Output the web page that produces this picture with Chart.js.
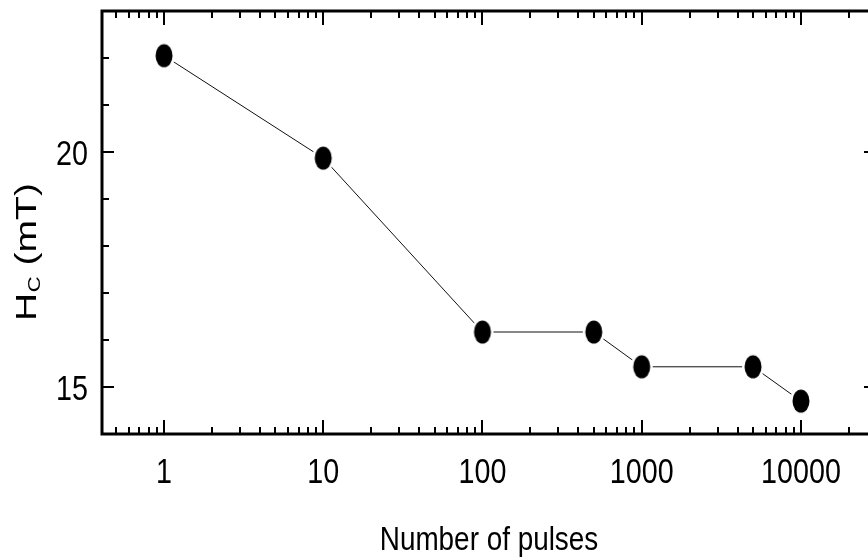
<!DOCTYPE html>
<html><head><meta charset="utf-8">
<script src="https://cdn.jsdelivr.net/npm/chart.js@4.4.1/dist/chart.umd.min.js"></script>
<style>html,body{margin:0;padding:0;background:#fff}#wrap{width:868px;height:558px;position:relative}</style>
</head><body><div id="wrap"><canvas id="c" width="868" height="558"></canvas></div>
<script>
// ---- data ----
const pulses = [1, 10, 100, 500, 1000, 5000, 10000];
const hc = [22.05, 19.87, 16.17, 16.17, 15.43, 15.43, 14.70];
const xMajorTicks = [1, 10, 100, 1000, 10000];
const yMajorTicks = [15, 20];
const yMinorTicks = [14, 16, 17, 18, 19, 21, 22, 23];
const xTitle = 'Number of pulses';
const yTitleMain = 'H', yTitleSub = 'C', yTitleUnit = ' (mT)';

const FAM = "'Liberation Sans', Arial, sans-serif";

// marker image: black ellipse with thin white halo
function makeMarker(){
  const c = document.createElement('canvas'); c.width = 24; c.height = 30;
  const g = c.getContext('2d');
  g.fillStyle = '#fff'; g.beginPath(); g.ellipse(12, 15, 11, 14, 0, 0, Math.PI*2); g.fill();
  g.fillStyle = '#000'; g.beginPath(); g.ellipse(12, 15, 8.5, 11.5, 0, 0, Math.PI*2); g.fill();
  return c;
}

// condensed text (Arial-Narrow-like) drawn through a horizontal scale
function txt(ctx, str, x, y, size, align, sx){
  ctx.save();
  ctx.translate(x, y); ctx.scale(sx, 1);
  ctx.font = `${size}px ${FAM}`;
  ctx.textAlign = align; ctx.textBaseline = 'alphabetic';
  ctx.fillStyle = '#000';
  ctx.fillText(str, 0, 0);
  ctx.restore();
}

const frame = {
  id: 'frame',
  afterDatasetsDraw(chart){
    const {ctx, chartArea:a, scales:{x, y}} = chart;
    const right = 876; // true right border lies just outside the window
    ctx.save();
    ctx.strokeStyle = '#000';
    ctx.lineWidth = 3; ctx.lineCap = 'square';
    ctx.beginPath();
    ctx.moveTo(right, a.top); ctx.lineTo(a.left, a.top); ctx.lineTo(a.left, a.bottom); ctx.lineTo(right, a.bottom);
    ctx.stroke();
    ctx.lineWidth = 2; ctx.lineCap = 'butt';
    ctx.beginPath();
    for (let d = 0.1; d <= 100000; d *= 10) {
      for (let k = 1; k <= 9; k++) {
        const v = k * d;
        if (v < x.min || v > x.max) continue;
        const px = Math.round(x.getPixelForValue(v));
        const len = k === 1 ? 14 : 7;
        ctx.moveTo(px, a.bottom); ctx.lineTo(px, a.bottom - len);
        ctx.moveTo(px, a.top); ctx.lineTo(px, a.top + len);
      }
    }
    const yt = yMajorTicks.map(v => [v, 12]).concat(yMinorTicks.map(v => [v, 7]));
    for (const [v, len] of yt) {
      const py = Math.round(y.getPixelForValue(v));
      ctx.moveTo(a.left, py); ctx.lineTo(a.left + len, py);
      ctx.moveTo(right, py); ctx.lineTo(right - len, py);
    }
    ctx.stroke();
    ctx.restore();

    // tick labels
    for (const v of xMajorTicks) txt(ctx, String(v), x.getPixelForValue(v), 483, 35, 'center', 0.82);
    for (const v of yMajorTicks) txt(ctx, String(v), 88, y.getPixelForValue(v) + 12.5, 35, 'right', 0.82);
    // x title
    txt(ctx, xTitle, (a.left + right) / 2, 550, 34, 'center', 0.82);

    // y title with subscript (rotated)
    ctx.save();
    ctx.fillStyle = '#000';
    ctx.translate(36, 321);
    ctx.rotate(-Math.PI/2);
    ctx.scale(1.3, 1);
    ctx.textBaseline = 'alphabetic'; ctx.textAlign = 'left';
    ctx.font = `30px ${FAM}`;
    ctx.fillText(yTitleMain, 0, 0);
    let w = ctx.measureText(yTitleMain).width + 0.5;
    ctx.font = `17px ${FAM}`;
    ctx.fillText(yTitleSub, w, 4);
    w += ctx.measureText(yTitleSub).width;
    ctx.font = `30px ${FAM}`;
    ctx.fillText(yTitleUnit, w, 0);
    ctx.restore();
  }
};

new Chart(document.getElementById('c'), {
  type: 'line',
  data: {
    datasets: [{
      data: pulses.map((p, i) => ({x: p, y: hc[i]})),
      borderColor: '#111',
      borderWidth: 1,
      pointStyle: makeMarker(),
      pointRadius: 10,
      tension: 0,
      fill: false
    }]
  },
  options: {
    responsive: false,
    animation: false,
    events: [],
    layout: {autoPadding: false, padding: {top: 11, right: 0, left: 0, bottom: 0}},
    plugins: {legend: {display: false}, tooltip: {enabled: false}},
    scales: {
      x: {
        type: 'logarithmic',
        min: 0.408,
        max: 26350,
        grid: {display: false, drawTicks: false},
        border: {display: false},
        ticks: {display: false},
        afterBuildTicks: s => { s.ticks = xMajorTicks.map(v => ({value: v})); },
        afterFit: s => { s.height = 124; s.paddingLeft = 0; s.paddingRight = 0; }
      },
      y: {
        type: 'linear',
        min: 14,
        max: 23,
        grid: {display: false, drawTicks: false},
        border: {display: false},
        ticks: {display: false},
        afterBuildTicks: s => { s.ticks = yMajorTicks.map(v => ({value: v})); },
        afterFit: s => { s.width = 102; s.paddingTop = 0; s.paddingBottom = 0; }
      }
    }
  },
  plugins: [frame]
});
</script>
</body></html>
